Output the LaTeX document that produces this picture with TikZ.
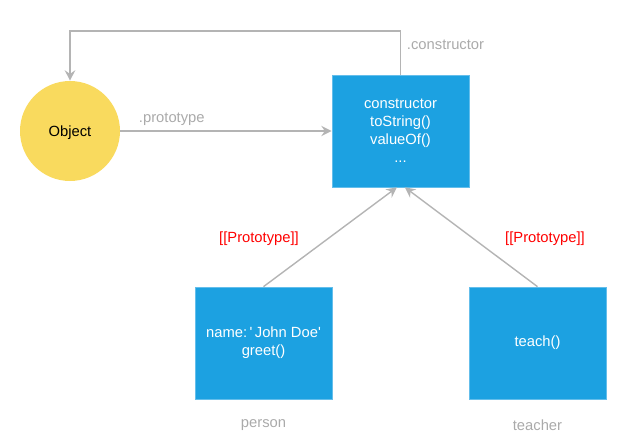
\documentclass[tikz,border=0pt]{standalone}
\usepackage{fontspec}
\setmainfont{Liberation Sans}
\usepackage{xcolor}
\usepackage{tikz}
\usetikzlibrary{positioning,arrows.meta}
\definecolor{protoblue}{RGB}{28,161,225}
\definecolor{protoedge}{RGB}{100,190,235}
\definecolor{objyellow}{RGB}{249,218,94}
\definecolor{linkgray}{RGB}{180,180,180}
\definecolor{labelgray}{RGB}{170,170,170}
\definecolor{protored}{RGB}{255,0,0}
\tikzset{
  objbox/.style={rectangle, fill=protoblue, draw=protoedge, line width=0.5pt, minimum width=3.425cm, minimum height=2.8cm, text=white, align=center, font=\fontsize{10.5}{12.8}\selectfont},
  link/.style={draw=linkgray, line width=1pt, -{Stealth[length=2.6mm,width=2.6mm,inset=0.9mm]}},
  linklabel/.style={text=labelgray, font=\fontsize{10.5}{12.8}\selectfont},
  protolabel/.style={text=protored, font=\fontsize{10.5}{12.8}\selectfont}
}

\begin{document}
\begin{tikzpicture}
\useasboundingbox (0,0) rectangle (16,-11.175);
\node[circle, fill=objyellow, minimum size=2.5cm, inner sep=0pt, text depth=0pt, font=\fontsize{10.5}{12.8}\selectfont] (obj) at (1.75,-3.275) {Object};
\node[objbox] (proto) at (10.0125,-3.275) {constructor\\toString()\\valueOf()\\...};
\node[objbox] (person) at (6.5875,-8.575) {name:\,\textquotesingle\,John Doe\textquotesingle\\greet()};
\node[objbox] (teacher) at (13.4375,-8.575) {teach()};
\coordinate (ctop) at (10.0125,-0.775);
\draw[link] (proto.north) -- (ctop) -| (obj.north);
\node[linklabel, anchor=west] (ctorlbl) at (10.05,-1.12) {.constructor};
\draw[link] (obj.east) -- (proto.west);
\node[linklabel, anchor=west] (protolbl) at (3.35,-2.99) {.prototype};
\draw[link] (person.north) -- ([xshift=-0.09cm]proto.south);
\draw[link] (teacher.north) -- ([xshift=0.11cm]proto.south);
\node[protolabel] (plbl1) at (6.475,-5.97) {[[Prototype]]};
\node[protolabel] (plbl2) at (13.625,-5.97) {[[Prototype]]};
\node[linklabel] (personlbl) at (6.5875,-10.62) {person};
\node[linklabel] (teacherlbl) at (13.4375,-10.62) {teacher};
\end{tikzpicture}
\end{document}
